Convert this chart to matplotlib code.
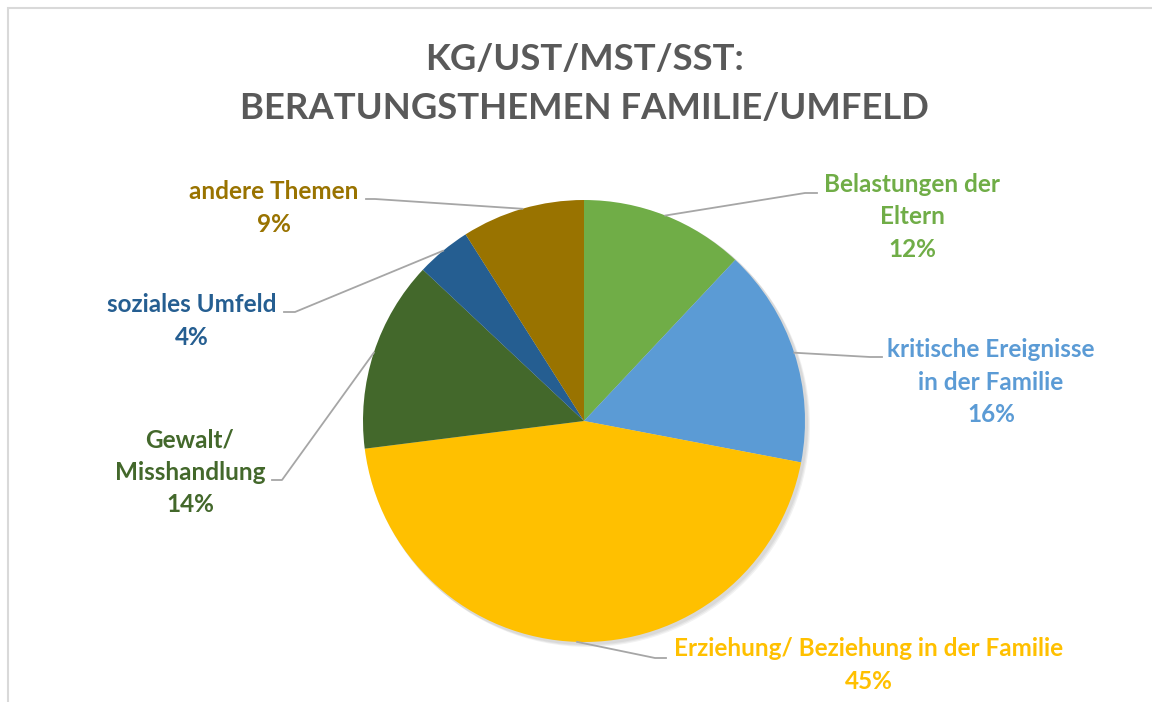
import matplotlib
matplotlib.use('Agg')
import numpy as np
from matplotlib import pyplot as plt
from matplotlib.patches import Rectangle, Circle

# Daten
kategorien = ['Belastungen der\nEltern', 'kritische Ereignisse\nin der Familie',
              'Erziehung/ Beziehung in der Familie', 'Gewalt/\nMisshandlung',
              'soziales Umfeld', 'andere Themen']
anteile = [12, 16, 45, 14, 4, 9]
farben = ['#70AD47', '#5B9BD5', '#FFC000', '#43682B', '#255E91', '#997300']
titel = 'KG/UST/MST/SST:\nBERATUNGSTHEMEN FAMILIE/UMFELD'

# Layout (Pixel, y von oben)
W, H = 1152, 702
cx, cy, r = 584, 421, 221
text_pos = [(912, 217), (991, 382), (869, 665), (190, 472), (192, 321), (274, 208)]
knick = [(805, 193), (870, 357), (655, 658), (282, 480), (295, 312), (375, 199)]
ende = [(817, 193), (882, 357), (666, 658), (272, 480), (284, 312), (366, 199)]

plt.rcParams['font.family'] = ['Lato', 'DejaVu Sans']

fig = plt.figure(figsize=(W / 100, H / 100), dpi=100)
ax = fig.add_axes([0, 0, 1, 1])

# leichter Schatten
for i, a in enumerate([0.05, 0.05, 0.05]):
    ax.add_patch(Circle((cx + 2 + i, H - cy - 2 - i), r + 1, fc='black', alpha=a, lw=0, zorder=1))

wedges, _ = ax.pie(anteile, colors=farben, startangle=90, counterclock=False,
                   center=(cx, H - cy), radius=r, wedgeprops=dict(linewidth=0, zorder=2),
                   frame=True)
ax.set_xlim(0, W)
ax.set_ylim(0, H)
ax.set_aspect('equal')
ax.axis('off')

# Rahmen
ax.add_patch(Rectangle((8, -20), W + 20, H - 8 + 20, fill=False, ec='#D9D9D9', lw=1.5))

for w, lab, val, col, tp, kn, en in zip(wedges, kategorien, anteile, farben, text_pos, knick, ende):
    mid = np.deg2rad((w.theta1 + w.theta2) / 2)
    x0 = cx + r * np.cos(mid)
    y0 = (H - cy) + r * np.sin(mid)
    ax.plot([x0, kn[0], en[0]], [y0, H - kn[1], H - en[1]], color='#A6A6A6', lw=1.3, zorder=3)
    ax.text(tp[0], H - tp[1], f'{lab}\n{val}%', color=col, fontsize=17.5, fontweight='bold',
            ha='center', va='center', linespacing=1.48)

ax.text(584, H - 84, titel, color='#595959', fontsize=26.3, fontweight='bold',
        ha='center', va='center', linespacing=1.62)

fig.savefig('out.png', dpi=100)
